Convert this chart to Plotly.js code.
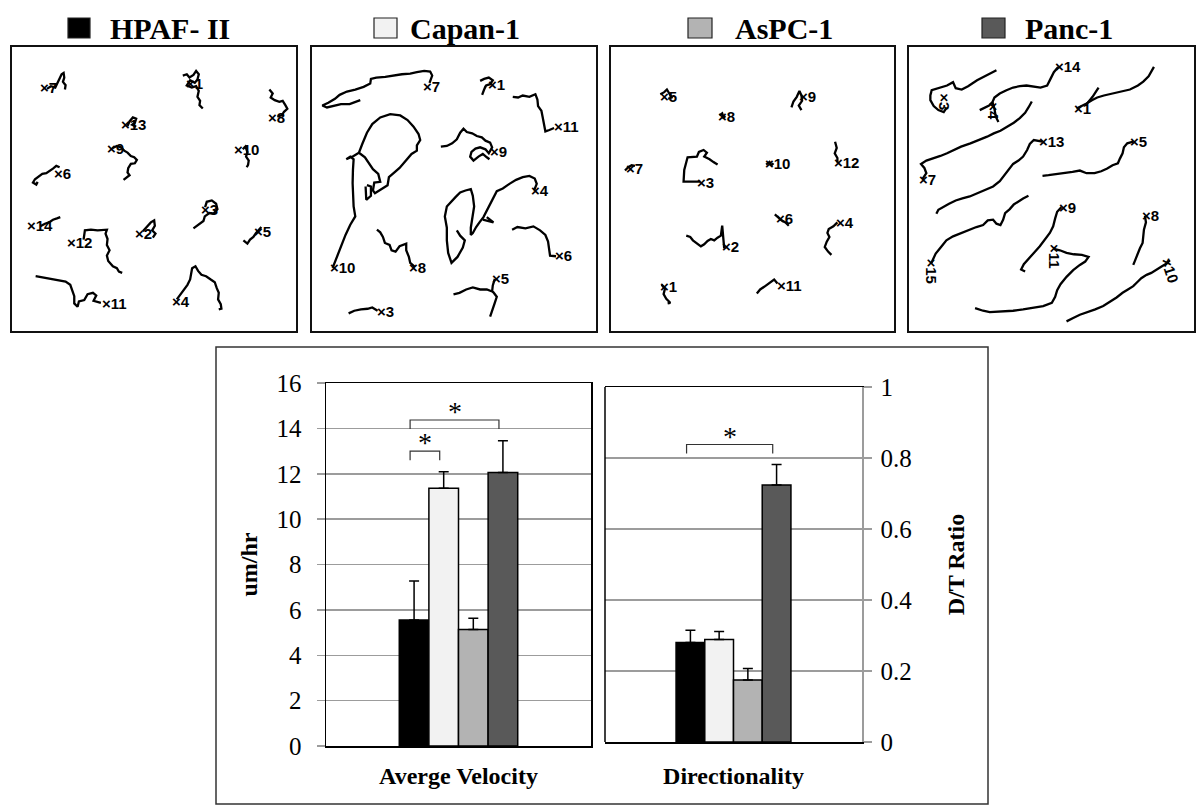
<!DOCTYPE html>
<html>
<head>
<meta charset="utf-8">
<script src="https://cdn.plot.ly/plotly-3.0.1.min.js"></script>
<style>html,body{margin:0;padding:0;background:#fff}#chart{width:1200px;height:811px}</style>
</head>
<body>
<div id="chart"></div>
<script>
// ---------------- DATA ----------------
const cellLines = ['HPAF- II', 'Capan-1', 'AsPC-1', 'Panc-1'];
const metrics = ['Averge Velocity', 'Directionality'];
const velocityMean = [5.55, 11.36, 5.14, 12.05];
const velocityErr  = [1.72, 0.73, 0.49, 1.41];
const dirMean = [0.28, 0.289, 0.175, 0.724];
const dirErr  = [0.035, 0.022, 0.032, 0.058];
// significance brackets: [barA, barB, height]
const velocitySig = [[0, 1, 13.0], [0, 3, 14.37]];
const dirSig = [[0, 3, 0.838]];

// cell tracks (image units of each panel, x right, y down)
const hpafTracks = [
  {id:'7', lx:128, ly:262, pts:[[140,266],[152,258],[165,262],[172,248],[178,235],[184,222],[190,218],[192,232],[188,245],[196,255],[194,268]]},
  {id:'1', lx:566, ly:250, pts:[[548,226],[560,222],[568,232],[580,224],[588,212],[596,222],[592,238],[584,248],[570,240],[560,256],[575,262],[588,258],[596,272],[592,290],[600,302],[598,315],[608,325]]},
  {id:'8', lx:812, ly:352, pts:[[808,268],[818,280],[812,292],[824,300],[838,305],[848,302],[856,315],[862,326],[852,335],[846,345],[832,350]]},
  {id:'13', lx:370, ly:372, pts:[[382,378],[388,364],[398,352],[408,356],[404,368],[396,374],[408,380]]},
  {id:'9', lx:330, ly:445, pts:[[336,445],[350,438],[362,442],[372,452],[382,458],[392,468],[402,472],[410,480],[404,490],[392,492],[384,505],[382,518],[388,526],[378,534],[370,540]]},
  {id:'10', lx:712, ly:450, pts:[[728,448],[736,440],[742,456],[738,470],[746,482],[744,495],[740,502]]},
  {id:'6', lx:170, ly:520, pts:[[178,502],[168,498],[158,506],[148,512],[138,520],[126,522],[116,530],[104,538],[98,548],[108,554],[112,546]]},
  {id:'3', lx:612, ly:630, pts:[[615,622],[620,606],[635,602],[648,612],[652,628],[640,642],[628,640],[614,650],[610,664],[598,672],[590,680],[580,686]]},
  {id:'14', lx:90, ly:678, pts:[[120,680],[134,672],[146,668],[158,660],[170,656],[180,652]]},
  {id:'12', lx:208, ly:728, pts:[[250,720],[254,692],[272,690],[292,692],[320,690],[316,702],[322,718],[320,736],[328,752],[320,768],[324,784],[338,800],[350,806],[356,816],[366,820]]},
  {id:'2', lx:412, ly:700, pts:[[428,695],[440,680],[452,668],[462,662],[464,678],[456,692],[466,702],[458,714]]},
  {id:'5', lx:772, ly:694, pts:[[730,722],[742,732],[750,720],[760,712],[768,700],[778,690],[784,682]]},
  {id:'11', lx:315, ly:912, pts:[[106,830],[128,834],[150,838],[172,842],[196,846],[210,856],[216,872],[222,890],[222,912],[232,922],[236,906],[252,902],[262,884],[278,880],[288,888],[280,904],[302,910]]},
  {id:'4', lx:525, ly:905, pts:[[530,900],[540,886],[552,870],[562,856],[570,840],[574,822],[576,806],[586,800],[594,814],[604,826],[618,830],[632,840],[644,848],[650,866],[656,880],[654,900],[662,914],[664,928],[656,930]]}
];
const capanTracks = [
  {id:'7', lx:378, ly:258, pts:[[388,248],[396,226],[390,214],[372,212],[350,216],[330,220],[305,222],[280,226],[255,230],[228,232],[212,236],[210,250],[190,260],[165,268],[140,274],[118,284],[104,296],[84,308],[66,316],[80,322],[100,318],[122,312],[148,312],[165,306],[180,300]]},
  {id:'1', lx:572, ly:252, pts:[[540,242],[552,236],[566,232],[578,240],[570,252],[558,256],[552,268],[546,284],[550,270],[556,258]]},
  {id:'11', lx:772, ly:378, pts:[[638,290],[654,292],[668,286],[688,290],[706,282],[712,298],[714,318],[724,332],[728,352],[732,372],[736,394],[748,390],[762,384]]},
  {id:'10', lx:97, ly:805, pts:[[97,805],[108,775],[122,740],[136,705],[150,675],[165,650],[160,620],[158,585],[157,550],[158,510],[160,478],[150,470],[138,478],[160,468],[176,458],[186,432],[200,398],[216,372],[240,352],[270,342],[300,346],[322,360],[340,380],[355,402],[360,420],[350,436],[350,452],[334,462],[318,482],[298,504],[280,520],[266,532],[262,556],[242,568],[224,580],[218,572],[222,548],[240,546],[234,522],[218,508],[206,490],[194,472],[178,460]]},
  {id:'', pts:[[196,560],[198,600],[212,588],[212,560],[200,556]]},
  {id:'9', lx:578, ly:455, pts:[[422,440],[440,438],[456,430],[470,418],[480,398],[490,386],[500,396],[516,400],[530,408],[545,412],[556,422],[570,428],[576,442],[566,460],[556,448],[540,442],[526,446],[514,456],[510,470],[520,482],[535,470],[548,462],[560,472],[568,478]]},
  {id:'4', lx:702, ly:572, pts:[[702,572],[710,552],[704,536],[688,528],[668,532],[648,540],[628,552],[608,566],[590,574],[580,594],[570,612],[560,632],[550,652],[538,668],[528,682],[518,700],[512,706],[512,684],[518,652],[522,620],[518,588],[512,568],[496,572],[480,578],[466,592],[452,608],[440,620],[434,650],[440,684],[440,722],[444,760],[454,790],[472,772],[488,744],[494,722],[480,708],[470,692]]},
  {id:'', pts:[[548,660],[580,668],[560,652]]},
  {id:'6', lx:775, ly:768, pts:[[636,690],[652,682],[676,686],[700,680],[720,692],[736,706],[744,726],[746,746],[750,768],[768,770]]},
  {id:'8', lx:335, ly:805, pts:[[230,690],[240,698],[248,712],[254,730],[268,736],[274,752],[286,756],[298,740],[318,732],[318,752],[326,772],[330,790],[344,802]]},
  {id:'5', lx:585, ly:838, pts:[[460,885],[478,880],[498,870],[518,864],[540,870],[560,870],[576,876],[578,858],[584,838]]},
  {id:'', pts:[[578,876],[590,892],[584,910],[578,926],[574,942],[570,952]]},
  {id:'3', lx:238, ly:935, pts:[[145,942],[162,934],[182,930],[202,928],[216,924],[232,934]]}
];
const aspcTracks = [
  {id:'5', lx:188, ly:288, pts:[[180,282],[192,276],[200,268],[208,282],[214,292],[204,296]]},
  {id:'8', lx:362, ly:348, pts:[[358,346],[366,340],[370,352],[376,348]]},
  {id:'9', lx:606, ly:290, pts:[[574,322],[580,304],[590,290],[598,272],[604,286],[606,302],[596,316],[604,330]]},
  {id:'7', lx:86, ly:505, pts:[[74,512],[84,502],[94,496],[104,498]]},
  {id:'3', lx:300, ly:548, pts:[[300,545],[270,546],[250,545],[252,510],[262,472],[290,470],[296,456],[310,450],[320,458],[312,470],[328,478],[342,488],[352,494],[340,486]]},
  {id:'10', lx:505, ly:492, pts:[[498,494],[508,486],[514,496],[520,490]]},
  {id:'12', lx:712, ly:487, pts:[[705,425],[710,444],[704,460],[712,474],[712,488]]},
  {id:'6', lx:538, ly:655, pts:[[524,644],[534,652],[544,662],[556,668],[566,678]]},
  {id:'4', lx:718, ly:668, pts:[[712,668],[700,680],[686,688],[682,700],[688,712],[680,726],[674,742],[684,756],[694,766]]},
  {id:'2', lx:375, ly:740, pts:[[258,708],[270,712],[278,722],[290,730],[302,740],[312,734],[322,724],[332,718],[342,722],[352,714],[362,708],[366,678],[368,702],[372,730],[372,746]]},
  {id:'1', lx:188, ly:862, pts:[[184,856],[194,868],[190,884],[198,898],[210,910],[202,912]]},
  {id:'11', lx:540, ly:858, pts:[[470,882],[480,870],[492,862],[502,854],[512,846],[522,840],[532,852]]}
];
const pancTracks = [
  {id:'3', lx:136, ly:290, angle:90, pts:[[290,210],[262,224],[232,240],[205,258],[186,268],[168,264],[160,246],[142,256],[112,264],[96,270],[92,286],[92,300],[102,318],[116,330],[132,336],[140,324]]},
  {id:'14', lx:475, ly:200, pts:[[475,200],[462,216],[452,236],[442,256],[422,262],[400,258],[380,256],[360,258],[340,262],[320,270],[300,280],[284,292],[278,306],[268,316],[254,322],[240,330]]},
  {id:'4', lx:282, ly:318, angle:90, pts:[[278,306],[284,326],[288,350],[296,366]]},
  {id:'1', lx:530, ly:325, pts:[[530,325],[546,318],[560,310],[576,300],[592,292],[612,286],[640,280],[662,274],[690,268],[714,256],[730,244],[746,228],[754,214],[762,200]]},
  {id:'', pts:[[560,312],[578,290],[596,262]]},
  {id:'7', lx:68, ly:538, pts:[[68,538],[80,520],[74,504],[64,492],[80,482],[100,476],[122,468],[142,460],[162,450],[184,440],[212,430],[240,420],[262,410],[282,400],[302,392],[322,380],[342,368],[360,354],[376,338],[386,322],[396,304]]},
  {id:'13', lx:428, ly:425, pts:[[428,425],[402,420],[390,432],[382,450],[370,470],[356,482],[340,492],[326,510],[314,526],[300,544],[280,560],[258,570],[236,580],[210,590],[188,596],[168,602],[148,612],[130,622],[116,630],[110,642]]},
  {id:'5', lx:700, ly:425, pts:[[700,425],[682,430],[672,442],[668,460],[660,476],[654,490],[638,496],[622,506],[604,514],[584,520],[560,520],[540,512],[518,516],[494,520],[470,522],[446,526],[428,528]]},
  {id:'15', lx:95, ly:788, angle:90, pts:[[95,790],[108,762],[124,742],[140,722],[160,710],[184,700],[208,690],[230,682],[250,676],[264,662],[280,660],[290,672],[302,676],[310,660],[316,640],[330,628],[342,614],[356,604],[370,596],[386,588]]},
  {id:'9', lx:485, ly:622, pts:[[485,622],[472,636],[466,656],[460,680],[450,700],[436,720],[420,740],[402,760],[386,780],[372,794],[364,810],[376,816]]},
  {id:'11', lx:462, ly:746, angle:90, pts:[[462,748],[480,752],[500,760],[522,764],[546,766],[566,772],[556,786],[540,796],[520,812],[500,832],[482,854],[472,872],[466,892],[456,910],[430,920],[400,926],[370,930],[340,934],[302,936],[270,938],[250,934],[226,926]]},
  {id:'8', lx:735, ly:648, pts:[[735,648],[738,668],[732,690],[730,710],[728,730],[720,746],[714,762],[710,776],[704,786],[700,796]]},
  {id:'10', lx:810, ly:780, angle:72, pts:[[810,782],[800,792],[786,800],[770,810],[754,820],[740,826],[724,836],[714,846],[700,860],[684,870],[668,880],[650,894],[630,908],[610,920],[586,930],[560,938],[540,946],[520,956],[500,966]]}
];
const panelTracks = [hpafTracks, capanTracks, aspcTracks, pancTracks];

// ---------------- STYLE / LAYOUT ----------------
const barColors = ['#000000', '#f2f2f2', '#b3b3b3', '#595959'];
const W = 1200, H = 811;
const px = (a, b) => [a / W, b / W];
const py = (top, bottom) => [1 - bottom / H, 1 - top / H];
const panelX = [px(12, 296), px(312, 596), px(611, 894), px(909, 1194)];
const panelRangeX = [[35, 888], [35, 888], [32, 882], [28, 882]];
const panelY = py(47, 331);
const titleLeft = [108, 408, 733, 1023];
const squareX = [[68, 90], [374, 397], [688, 712], [982, 1005]];
const serif = 'Liberation Serif, Times New Roman, serif';
const sans = 'Liberation Sans, Arial, sans-serif';
const grid = '#9c9c9c';
const bargap = 0.553;

const traces = [];
const annotations = [];
const shapes = [];
const layout = {
  width: W, height: H,
  margin: {l: 0, r: 0, t: 0, b: 0},
  paper_bgcolor: '#fff', plot_bgcolor: '#fff',
  showlegend: false,
  barmode: 'group', bargap: bargap, bargroupgap: 0,
  annotations: annotations, shapes: shapes
};

// top panels
panelTracks.forEach((tracks, k) => {
  const n = k + 1;
  const xa = 'xaxis' + n, ya = 'yaxis' + n;
  layout[xa] = {domain: panelX[k], range: panelRangeX[k], anchor: 'y' + n,
    showline: true, mirror: true, linecolor: '#111', linewidth: 2,
    showgrid: false, zeroline: false, showticklabels: false, ticks: ''};
  layout[ya] = {domain: panelY, range: [995, 140], anchor: 'x' + n,
    showline: true, mirror: true, linecolor: '#111', linewidth: 2,
    showgrid: false, zeroline: false, showticklabels: false, ticks: ''};
  tracks.forEach(t => {
    traces.push({type: 'scatter', mode: 'lines', xaxis: 'x' + n, yaxis: 'y' + n,
      x: t.pts.map(p => p[0]), y: t.pts.map(p => p[1]),
      line: {color: '#000', width: 2.3}, hoverinfo: 'skip'});
    if (t.id) {
      const a = {xref: 'x' + n, yref: 'y' + n, x: t.lx, y: t.ly,
        text: '<b>×' + t.id + '</b>', showarrow: false,
        font: {family: sans, size: 15, color: '#000', weight: 700}};
      if (t.angle) {
        a.textangle = t.angle; a.xanchor = 'center'; a.yanchor = 'top'; a.yshift = 6;
      } else {
        a.xanchor = 'left'; a.yanchor = 'middle'; a.xshift = -5;
      }
      annotations.push(a);
    }
  });
  // panel title with key square
  annotations.push({xref: 'paper', yref: 'paper', x: titleLeft[k] / W, y: 1 - 28 / H,
    xanchor: 'left', yanchor: 'middle', showarrow: false,
    text: '<b>' + cellLines[k] + '</b>', font: {family: serif, size: 30, color: '#000'}});
  shapes.push({type: 'rect', xref: 'paper', yref: 'paper',
    x0: squareX[k][0] / W, x1: squareX[k][1] / W, y0: 1 - 38 / H, y1: 1 - 18 / H,
    fillcolor: barColors[k], line: {color: '#222', width: 1.2}});
});

// bottom frame
shapes.push({type: 'rect', xref: 'paper', yref: 'paper', x0: 216 / W, x1: 988 / W,
  y0: 1 - 804 / H, y1: 1 - 347 / H, line: {color: '#333', width: 1.5}, fillcolor: 'rgba(0,0,0,0)', layer: 'below'});

// bar charts
const groupW = 1 - bargap, barW = groupW / cellLines.length;
const barCenter = i => -groupW / 2 + barW * (i + 0.5);
cellLines.forEach((name, i) => {
  traces.push({type: 'bar', name: name, xaxis: 'x5', yaxis: 'y5', x: [0], y: [velocityMean[i]],
    marker: {color: barColors[i], line: {color: '#000', width: 1.5}},
    error_y: {type: 'data', symmetric: false, array: [velocityErr[i]], arrayminus: [0],
      color: '#000', thickness: 1.5, width: 5}, hoverinfo: 'skip'});
  traces.push({type: 'bar', name: name, xaxis: 'x6', yaxis: 'y6', x: [0], y: [dirMean[i]],
    marker: {color: barColors[i], line: {color: '#000', width: 1.5}},
    error_y: {type: 'data', symmetric: false, array: [dirErr[i]], arrayminus: [0],
      color: '#000', thickness: 1.5, width: 5}, hoverinfo: 'skip'});
});

function addBrackets(sig, n, yMax) {
  const drop = yMax * 0.025, shift = -0.015;
  sig.forEach(s => {
    const xa = barCenter(s[0]) + shift, xb = barCenter(s[1]) + shift, y = s[2];
    traces.push({type: 'scatter', mode: 'lines', xaxis: 'x' + n, yaxis: 'y' + n,
      x: [xa, xa, xb, xb], y: [y - drop, y, y, y - drop],
      line: {color: '#333', width: 1.2}, hoverinfo: 'skip'});
    annotations.push({xref: 'x' + n, yref: 'y' + n, x: (xa + xb) / 2, y: y, text: '*',
      showarrow: false, yanchor: 'bottom', yshift: -9, font: {family: serif, size: 28, color: '#000'}});
  });
}
addBrackets(velocitySig, 5, 16);
addBrackets(dirSig, 6, 1);

layout.xaxis5 = {domain: px(326, 591), anchor: 'y5', range: [-0.5, 0.5],
  tickvals: [0], ticktext: [metrics[0]], ticks: '', ticklabelstandoff: 8,
  tickfont: {family: serif, size: 24, color: '#000', weight: 700},
  showline: true, mirror: true, linecolor: '#000', linewidth: 1.5, showgrid: false, zeroline: false};
layout.yaxis5 = {domain: py(383, 746), anchor: 'x5', range: [0, 16], dtick: 2, tick0: 0,
  showgrid: true, gridcolor: grid, gridwidth: 1.5, zeroline: false,
  ticks: 'outside', ticklen: 8, tickcolor: grid, tickwidth: 1.5, ticklabelstandoff: 10,
  showline: true, mirror: true, linecolor: '#000', linewidth: 1.5,
  tickfont: {family: serif, size: 25, color: '#000'},
  title: {text: 'um/hr', standoff: 12, font: {family: serif, size: 24, color: '#000', weight: 700}}};
layout.xaxis6 = {domain: px(605, 862), anchor: 'y6', range: [-0.5, 0.5],
  tickvals: [0], ticktext: [metrics[1]], ticks: '', ticklabelstandoff: 12,
  tickfont: {family: serif, size: 24, color: '#000', weight: 700},
  showline: true, mirror: true, linecolor: '#000', linewidth: 1.5, showgrid: false, zeroline: false};
layout.yaxis6 = {domain: py(387, 742), anchor: 'x6', side: 'right', range: [0, 1], dtick: 0.2, tick0: 0,
  showgrid: true, gridcolor: grid, gridwidth: 1.5, zeroline: false,
  ticks: 'outside', ticklen: 8, tickcolor: grid, tickwidth: 1.5, ticklabelstandoff: 4,
  showline: true, linecolor: grid, linewidth: 1.5,
  tickfont: {family: serif, size: 25, color: '#000'},
  title: {text: 'D/T Ratio', standoff: 36, font: {family: serif, size: 24, color: '#000', weight: 700}}};
shapes.push({type: 'line', xref: 'x6 domain', yref: 'y6 domain', x0: 0, x1: 0, y0: 0, y1: 1,
  line: {color: '#000', width: 1.5}});

Plotly.newPlot('chart', traces, layout, {staticPlot: true, displayModeBar: false});
</script>
</body>
</html>
